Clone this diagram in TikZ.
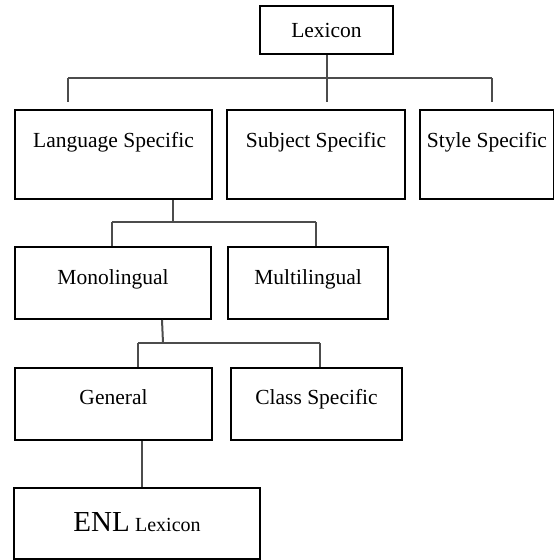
\documentclass[tikz,border=0pt]{standalone}
\usepackage{fontspec}
\setmainfont{Liberation Serif}
\usetikzlibrary{calc}

\begin{document}
\begin{tikzpicture}[x=1pt,y=-1pt,box/.style={draw,line width=2pt,anchor=north west,inner sep=0pt,font=\fontsize{21.5}{24}\selectfont},link/.style={draw=black!70,line width=2pt}]
	\useasboundingbox (0,0) rectangle (554,560);
	\node[box,minimum width=133pt,text height=31pt,text depth=17pt] (lex) at (259,5) {Lexicon};
	\node[box,minimum width=197pt,text height=37pt,text depth=52pt] (lang) at (14,109) {Language Specific};
	\node[box,minimum width=178pt,text height=37pt,text depth=52pt] (subj) at (226,109) {Subject Specific};
	\node[box,minimum width=134pt,text height=37pt,text depth=52pt] (style) at (419,109) {Style Specific};
	\node[box,minimum width=196pt,text height=37pt,text depth=35pt] (mono) at (14,246) {Monolingual};
	\node[box,minimum width=160pt,text height=37pt,text depth=35pt] (multi) at (227,246) {Multilingual};
	\node[box,minimum width=197pt,text height=36pt,text depth=36pt] (gen) at (14,367) {General};
	\node[box,minimum width=171pt,text height=36pt,text depth=36pt] (class) at (230,367) {Class Specific};
	\node[box,minimum width=246pt,text height=43pt,text depth=28pt] (enl) at (13,487) {{\fontsize{29}{30}\selectfont ENL} {\fontsize{20}{24}\selectfont Lexicon}};
	\coordinate (busA) at (68,78);
	\coordinate (busB) at (492,78);
	\coordinate (tapA) at (173,222);
	\coordinate (busC) at (112,222);
	\coordinate (busD) at (316,222);
	\coordinate (tapB) at (163,343);
	\coordinate (busE) at (138,343);
	\coordinate (busF) at (320,343);
	\coordinate (tapC) at (142,460);
	\draw[link] (lex.south) -- (lex.south |- busA);
	\draw[link] (busA) -- (busB);
	\draw[link] (busA) -- ($(busA |- lang.north)+(0,-7)$);
	\draw[link] (lex.south |- busA) -- ($(lex.south |- subj.north)+(0,-7)$);
	\draw[link] (busB) -- ($(busB |- style.north)+(0,-7)$);
	\draw[link] (tapA |- lang.south) -- (tapA);
	\draw[link] (busC) -- (busD);
	\draw[link] (busC) -- (busC |- mono.north);
	\draw[link] (busD) -- (busD |- multi.north);
	\draw[link] ($(tapB |- mono.south)+(-1,0)$) -- (tapB);
	\draw[link] (busE) -- (busF);
	\draw[link] (busE) -- (busE |- gen.north);
	\draw[link] (busF) -- (busF |- class.north);
	\draw[link] (tapC |- gen.south) -- (tapC |- enl.north);
\end{tikzpicture}
\end{document}
